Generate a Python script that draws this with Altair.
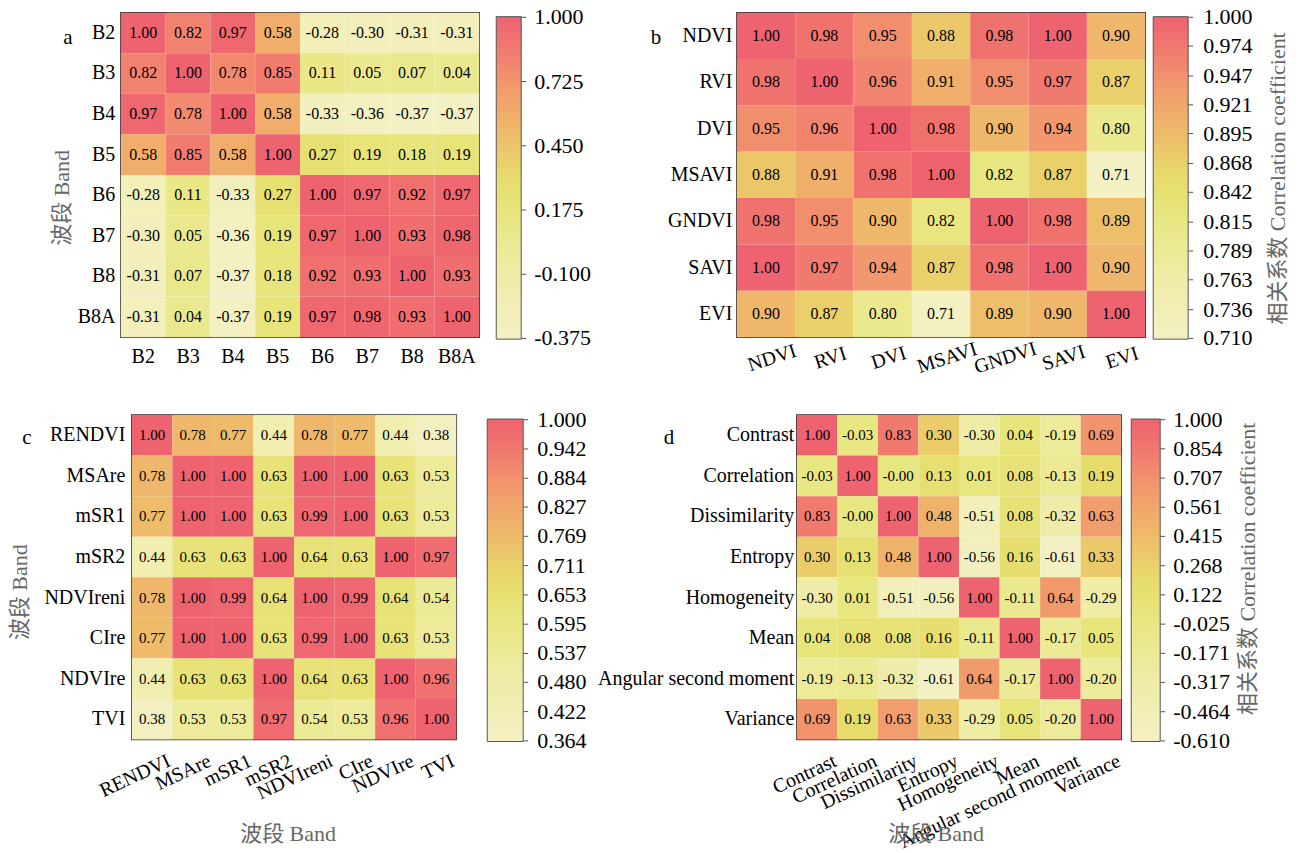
import altair as alt
import pandas as pd

FONT = "Liberation Serif, Noto Sans CJK SC"

# ---------------- data ----------------
a_bands = ["B2", "B3", "B4", "B5", "B6", "B7", "B8", "B8A"]
a_matrix = [
    [1.00, 0.82, 0.97, 0.58, -0.28, -0.30, -0.31, -0.31],
    [0.82, 1.00, 0.78, 0.85, 0.11, 0.05, 0.07, 0.04],
    [0.97, 0.78, 1.00, 0.58, -0.33, -0.36, -0.37, -0.37],
    [0.58, 0.85, 0.58, 1.00, 0.27, 0.19, 0.18, 0.19],
    [-0.28, 0.11, -0.33, 0.27, 1.00, 0.97, 0.92, 0.97],
    [-0.30, 0.05, -0.36, 0.19, 0.97, 1.00, 0.93, 0.98],
    [-0.31, 0.07, -0.37, 0.18, 0.92, 0.93, 1.00, 0.93],
    [-0.31, 0.04, -0.37, 0.19, 0.97, 0.98, 0.93, 1.00],
]
a_ticks = [1.000, 0.725, 0.450, 0.175, -0.100, -0.375]

b_bands = ["NDVI", "RVI", "DVI", "MSAVI", "GNDVI", "SAVI", "EVI"]
b_matrix = [
    [1.00, 0.98, 0.95, 0.88, 0.98, 1.00, 0.90],
    [0.98, 1.00, 0.96, 0.91, 0.95, 0.97, 0.87],
    [0.95, 0.96, 1.00, 0.98, 0.90, 0.94, 0.80],
    [0.88, 0.91, 0.98, 1.00, 0.82, 0.87, 0.71],
    [0.98, 0.95, 0.90, 0.82, 1.00, 0.98, 0.89],
    [1.00, 0.97, 0.94, 0.87, 0.98, 1.00, 0.90],
    [0.90, 0.87, 0.80, 0.71, 0.89, 0.90, 1.00],
]
b_ticks = [1.000, 0.974, 0.947, 0.921, 0.895, 0.868, 0.842, 0.815, 0.789, 0.763, 0.736, 0.710]

c_bands = ["RENDVI", "MSAre", "mSR1", "mSR2", "NDVIreni", "CIre", "NDVIre", "TVI"]
c_matrix = [
    [1.00, 0.78, 0.77, 0.44, 0.78, 0.77, 0.44, 0.38],
    [0.78, 1.00, 1.00, 0.63, 1.00, 1.00, 0.63, 0.53],
    [0.77, 1.00, 1.00, 0.63, 0.99, 1.00, 0.63, 0.53],
    [0.44, 0.63, 0.63, 1.00, 0.64, 0.63, 1.00, 0.97],
    [0.78, 1.00, 0.99, 0.64, 1.00, 0.99, 0.64, 0.54],
    [0.77, 1.00, 1.00, 0.63, 0.99, 1.00, 0.63, 0.53],
    [0.44, 0.63, 0.63, 1.00, 0.64, 0.63, 1.00, 0.96],
    [0.38, 0.53, 0.53, 0.97, 0.54, 0.53, 0.96, 1.00],
]
c_ticks = [1.000, 0.942, 0.884, 0.827, 0.769, 0.711, 0.653, 0.595, 0.537, 0.480, 0.422, 0.364]

d_bands = ["Contrast", "Correlation", "Dissimilarity", "Entropy", "Homogeneity",
           "Mean", "Angular second moment", "Variance"]
d_matrix = [
    [1.00, -0.03, 0.83, 0.30, -0.30, 0.04, -0.19, 0.69],
    [-0.03, 1.00, -0.00, 0.13, 0.01, 0.08, -0.13, 0.19],
    [0.83, -0.00, 1.00, 0.48, -0.51, 0.08, -0.32, 0.63],
    [0.30, 0.13, 0.48, 1.00, -0.56, 0.16, -0.61, 0.33],
    [-0.30, 0.01, -0.51, -0.56, 1.00, -0.11, 0.64, -0.29],
    [0.04, 0.08, 0.08, 0.16, -0.11, 1.00, -0.17, 0.05],
    [-0.19, -0.13, -0.32, -0.61, 0.64, -0.17, 1.00, -0.20],
    [0.69, 0.19, 0.63, 0.33, -0.29, 0.05, -0.20, 1.00],
]
d_ticks = [1.000, 0.854, 0.707, 0.561, 0.415, 0.268, 0.122, -0.025, -0.171, -0.317, -0.464, -0.610]

axis_title = "波段 Band"
cbar_title = "相关系数 Correlation coefficient"
letters = ["a", "b", "c", "d"]

# colour ramp: evenly spaced stops along each colour bar
COLORS = ["#f3f0c4", "#f1eeb5", "#efeca6", "#ebe991", "#e7e57c", "#e6dc6c",
          "#ecc46a", "#f0ac6b", "#f1966e", "#f1786f", "#ee6370"]

LABEL_EXPR = "replace(format(datum.value, '.3f'), '\u2212', '-')"
LEG_Y = 4
LEG_LEN = 323


def long_table(names, matrix):
    recs = []
    for i, r in enumerate(names):
        for j, c in enumerate(names):
            v = matrix[i][j]
            recs.append({"row": r, "col": c, "value": v, "label": f"{v:.2f}"})
    return pd.DataFrame(recs)


def panel(names, matrix, ticks, letter, letter_xy, width, height, cell_font,
          x_axis, y_axis, bar_thick, bar_offset, lab_offset, cbar_xy=None):
    df = long_table(names, matrix)
    lo, hi = min(ticks), max(ticks)
    eps = 0.002 * (hi - lo)
    lo, hi = lo - eps, hi + eps
    n = len(COLORS) - 1
    dom = [lo + k * (hi - lo) / n for k in range(n + 1)]
    scale = alt.Scale(domain=dom, range=COLORS, interpolate="rgb", nice=False)
    base = alt.Chart(df).encode(
        x=alt.X("col:N", sort=names, axis=x_axis,
                scale=alt.Scale(paddingInner=0, paddingOuter=0)),
        y=alt.Y("row:N", sort=names, axis=y_axis,
                scale=alt.Scale(paddingInner=0, paddingOuter=0)),
    )
    legend = alt.Legend(
        type="gradient", orient="none", direction="vertical",
        legendX=width + bar_offset, legendY=LEG_Y,
        gradientLength=LEG_LEN, gradientThickness=bar_thick,
        values=ticks, labelExpr=LABEL_EXPR, labelFont=FONT, labelFontSize=22,
        labelColor="black", labelOffset=lab_offset, labelBaseline="middle",
        labelAlign="left", labelOverlap=False, labelLimit=200,
        gradientStrokeColor="#555555", gradientStrokeWidth=1, padding=0,
    )
    rect = base.mark_rect().encode(
        color=alt.Color("value:Q", scale=scale, legend=legend, title=None),
    )
    text = base.mark_text(font=FONT, fontSize=cell_font, color="black").encode(
        text="label:N"
    )
    heat = alt.layer(rect, text)
    x0 = width + bar_offset + bar_thick
    tick_layer = alt.Chart(pd.DataFrame({"v": ticks})).mark_rule(
        color="#555555", strokeWidth=1
    ).encode(
        y=alt.Y("v:Q", axis=None,
                scale=alt.Scale(domain=[lo, hi], range=[LEG_Y + LEG_LEN, LEG_Y],
                                nice=False, zero=False)),
        x=alt.value(x0), x2=alt.value(x0 + 5),
    )
    lab = alt.Chart(pd.DataFrame({"t": [letter]})).mark_text(
        font=FONT, fontSize=21, color="black", align="center", baseline="middle"
    ).encode(text="t:N", x=alt.value(letter_xy[0]), y=alt.value(letter_xy[1]))
    layers = [heat, tick_layer, lab]
    if cbar_xy is not None:
        ct = alt.Chart(pd.DataFrame({"t": [cbar_title]})).mark_text(
            font=FONT, fontSize=22, color="#666666", angle=270,
            align="center", baseline="middle"
        ).encode(text="t:N", x=alt.value(cbar_xy[0]), y=alt.value(cbar_xy[1]))
        layers.append(ct)
    return alt.layer(*layers).resolve_scale(y="independent").properties(
        width=width, height=height)


def spacer(w):
    return alt.Chart(pd.DataFrame({"v": [0]})).mark_point(opacity=0, size=0).encode(
        x=alt.value(w), y=alt.value(0)
    ).properties(width=w, height=1, view=alt.ViewBackground(strokeOpacity=0))


A = panel(
    a_bands, a_matrix, a_ticks, letters[0], (-53, 25), 359, 325, 16,
    alt.Axis(title=None, labelAngle=0, labelPadding=9),
    alt.Axis(title=axis_title, labelPadding=6, titleX=-59, titleY=185,
             titleAngle=270, titleAlign="center", titleBaseline="middle"),
    25, 17, 13,
)
B = panel(
    b_bands, b_matrix, b_ticks, letters[1], (-81, 25), 409, 325, 16,
    alt.Axis(title=None, labelAngle=342, labelAlign="center", labelBaseline="top",
             labelPadding=11, labelOffset=3),
    alt.Axis(title=None, labelPadding=5),
    35, 8, 15, cbar_xy=(542, 166),
)
C = panel(
    c_bands, c_matrix, c_ticks, letters[2], (-105, 23), 325, 325, 15,
    alt.Axis(title=axis_title, labelAngle=335, labelAlign="right", labelBaseline="top",
             labelPadding=11, labelOffset=13, titleX=156, titleY=94,
             titleAngle=0, titleAlign="center", titleBaseline="middle"),
    alt.Axis(title=axis_title, labelPadding=7, titleX=-112, titleY=177,
             titleAngle=270, titleAlign="center", titleBaseline="middle"),
    36, 31, 14,
)
D = panel(
    d_bands, d_matrix, d_ticks, letters[3], (-128, 23), 325, 325, 15,
    alt.Axis(title=axis_title, labelAngle=335, labelAlign="right", labelBaseline="top",
             labelPadding=11, labelOffset=14, labelLimit=400, titleX=139, titleY=94,
             titleAngle=0, titleAlign="center", titleBaseline="middle"),
    alt.Axis(title=None, labelPadding=3, labelLimit=400),
    29, 10, 13, cbar_xy=(452, 154),
)

row1 = alt.hconcat(spacer(73), A, B, spacing=258, bounds="flush").resolve_scale(
    color="independent", x="independent", y="independent")
row2 = alt.hconcat(spacer(1), C, D, spacing=341, bounds="flush").resolve_scale(
    color="independent", x="independent", y="independent")

chart = alt.vconcat(row1, row2, spacing=36).resolve_scale(
    color="independent", x="independent", y="independent"
).properties(
    padding={"left": -218, "top": 3, "right": 0, "bottom": 0}
).configure(
    font=FONT, background="white"
).configure_view(
    stroke="#333333", strokeWidth=1.5
).configure_axis(
    ticks=False, domain=False, grid=False,
    labelFont=FONT, labelFontSize=20, labelColor="black",
    titleFont=FONT, titleFontSize=22, titleColor="#666666", titleFontWeight="normal",
)

chart.save("out.html", embed_options={"renderer": "svg", "actions": False})
